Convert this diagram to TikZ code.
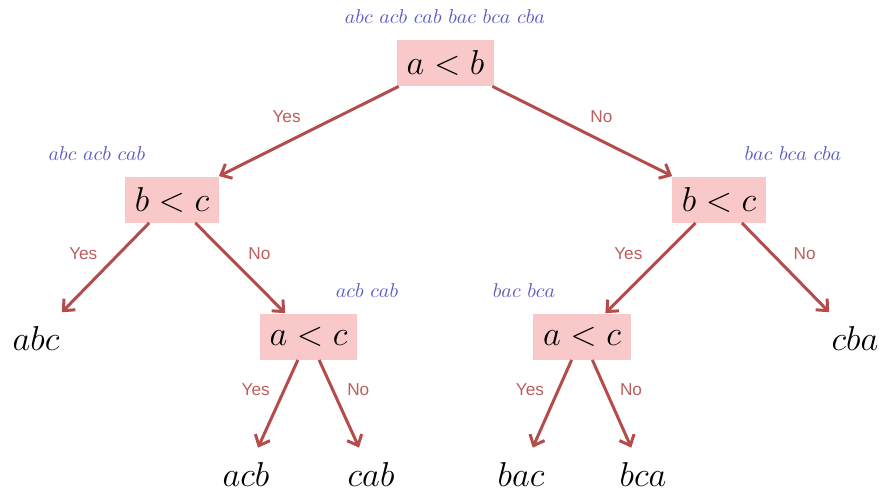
\documentclass[tikz,border=0pt]{standalone}
\usepackage{fontspec}
\newfontfamily\answerfont{Liberation Sans}
\usetikzlibrary{arrows.meta, positioning}
\definecolor{boxpink}{RGB}{249,200,201}
\definecolor{branchred}{RGB}{180,76,76}
\definecolor{setblue}{RGB}{92,92,196}

\begin{document}
\begin{tikzpicture}[
    >={Straight Barb[length=4.5pt, width=8pt]}, % Set default arrow tip style
    test/.style={fill=boxpink, font=\LARGE, inner xsep=5pt, inner ysep=0pt, minimum height=23pt}, % Style for comparisons
    leaf/.style={font=\LARGE, inner xsep=2pt, inner ysep=7pt}, % Style for final orders
    perms/.style={setblue, font=\normalsize}, % Style for remaining orders
    branch/.style={->, branchred, line width=1.5pt}, % Style for branches
    answer/.style={branchred!90!white, font=\answerfont\fontsize{8.6}{10}\selectfont} % Style for Yes/No labels
]
    \useasboundingbox (0, 0) rectangle (15.446, 8.611);

    % Comparisons
    \node[test] (root) at (7.829, 7.504) {$a < b$};
    \node[test] (lbc)  at (3.023, 5.105) {$b < c$};
    \node[test] (rbc)  at (12.635, 5.105) {$b < c$};
    \node[test] (lac)  at (5.421, 2.697) {$a < c$};
    \node[test] (rac)  at (10.227, 2.697) {$a < c$};

    % Orders still possible at each comparison
    \node[perms] (rootset) at (7.820, 8.312) {$abc$ $acb$ $cab$ $bac$ $bca$ $cba$};
    \node[perms] (lset)    at (1.705, 5.905) {$abc$ $acb$ $cab$};
    \node[perms] (rset)    at (13.935, 5.905) {$bac$ $bca$ $cba$};
    \node[perms] (lacset)  at (6.449, 3.497) {$acb$ $cab$};
    \node[perms] (racset)  at (9.208, 3.497) {$bac$ $bca$};

    % Final orders
    \node[leaf] (abc) at (0.633, 2.66) {$abc$};
    \node[leaf] (cba) at (15.025, 2.66) {$cba$};
    \node[leaf] (acb) at (4.323, 0.281) {$acb$};
    \node[leaf] (cab) at (6.520, 0.281) {$cab$};
    \node[leaf] (bac) at (9.155, 0.281) {$bac$};
    \node[leaf] (bca) at (11.299, 0.281) {$bca$};

    % Branches
    \draw[branch] (root) -- (lbc) node[answer, midway, above left] {Yes};
    \draw[branch] (root) -- (rbc) node[answer, midway, above right] {No};
    \draw[branch] (lbc) -- (abc) node[answer, midway, above left] {Yes};
    \draw[branch] (lbc) -- (lac) node[answer, midway, above right] {No};
    \draw[branch] (rbc) -- (rac) node[answer, midway, above left] {Yes};
    \draw[branch] (rbc) -- (cba) node[answer, midway, above right] {No};
    \draw[branch] (lac) -- (acb) node[answer, midway, above left] {Yes};
    \draw[branch] (lac) -- (cab) node[answer, midway, above right] {No};
    \draw[branch] (rac) -- (bac) node[answer, midway, above left] {Yes};
    \draw[branch] (rac) -- (bca) node[answer, midway, above right] {No};

\end{tikzpicture}
\end{document}
